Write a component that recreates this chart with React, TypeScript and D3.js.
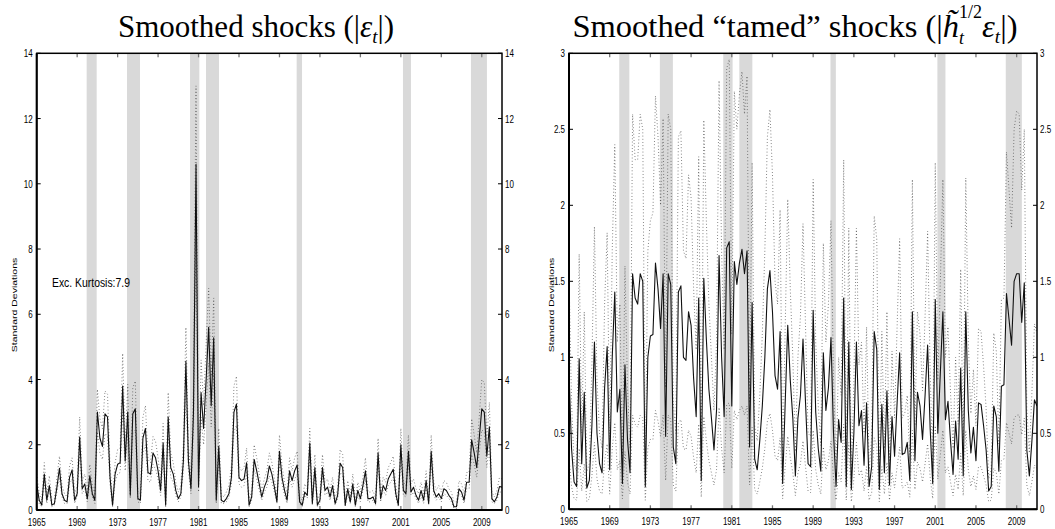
import React from 'react';
import * as d3 from 'd3';

// ---------- data ----------
const startYear = 1965;
const endYear = 2011;
const xTickYears = [1965, 1969, 1973, 1977, 1981, 1985, 1989, 1993, 1997, 2001, 2005, 2009];
const recessionStart = [1969.94, 1973.93, 1980.16, 1981.74, 1990.7, 2001.21, 2007.93];
const recessionEnd = [1970.93, 1975.21, 1981.08, 1983.02, 1991.23, 2002.0, 2009.51];

const leftTicks = [0, 2, 4, 6, 8, 10, 12, 14];
const rightTicks = [0, 0.5, 1, 1.5, 2, 2.5, 3];
const rightTickLabels = ['0', '0.5', '1', '1.5', '2', '2.5', '3'];

// quarterly, 1965Q1 ..
const leftMedian = [
  0.8, 0.3, 0.15, 1.1, 0.3, 0.75, 0.15, 0.2, 0.7, 1.28,
  0.5, 0.3, 0.25, 1.0, 1.23, 0.3, 0.5, 2.24, 0.65, 0.8,
  0.35, 1.05, 0.5, 0.3, 3.0, 2.2, 1.95, 2.95, 2.85, 1.0,
  0.15, 1.1, 1.4, 1.45, 3.8, 1.5, 3.0, 0.45, 2.95, 3.1,
  0.35, 0.3, 2.2, 2.5, 1.15, 1.1, 1.75, 1.6, 1.2, 0.6,
  2.05, 0.15, 2.85, 1.3, 1.1, 0.6, 0.35, 0.5, 1.5, 4.56,
  1.5, 0.65, 3.0, 10.6, 0.72, 3.6, 2.5, 4.0, 5.6, 3.2,
  5.28, 0.3, 1.95, 0.3, 0.25, 0.35, 0.5, 1.0, 3.0, 3.25,
  1.0, 0.9, 0.95, 1.45, 0.15, 0.4, 1.55, 1.2, 0.8, 0.4,
  0.7, 0.9, 1.35, 1.1, 0.7, 0.25, 1.8, 1.0, 0.6, 0.3,
  1.2, 0.9, 1.2, 1.38, 0.25, 0.15, 0.55, 0.45, 2.05, 0.2,
  1.3, 0.15, 0.3, 1.3, 0.6, 0.7, 0.4, 0.75, 0.2, 0.45,
  1.43, 1.3, 0.15, 0.65, 0.25, 0.8, 0.15, 0.6, 0.35, 0.75,
  1.2, 0.35, 0.35, 0.4, 0.2, 1.75, 0.35, 0.75, 0.6, 0.95,
  1.1, 1.25, 0.5, 0.15, 2.0, 0.6, 0.5, 1.8, 0.55, 0.7,
  0.45, 0.3, 0.6, 0.3, 0.9, 0.2, 1.8, 0.6, 0.4, 0.5,
  0.35, 0.65, 0.6, 0.45, 0.35, 0.1, 0.1, 0.65, 0.55, 0.3,
  0.85, 0.85, 2.15, 1.75, 1.3, 2.2, 3.1, 3.0, 1.65, 2.55,
  0.35, 0.25, 0.4, 0.72, 0.7,
];
const leftUpper = [
  1.1, 0.5, 0.3, 1.45, 0.5, 1.05, 0.3, 0.35, 1.0, 1.65,
  0.75, 0.5, 0.4, 1.35, 1.6, 0.5, 0.75, 2.85, 0.9, 1.1,
  0.55, 1.4, 0.75, 0.5, 3.7, 2.8, 2.5, 3.65, 3.55, 1.35,
  0.3, 1.45, 1.85, 1.9, 4.8, 1.95, 3.85, 0.65, 3.75, 3.95,
  0.55, 0.5, 2.85, 3.2, 1.55, 1.45, 2.25, 2.1, 1.6, 0.85,
  2.65, 0.3, 3.6, 1.75, 1.45, 0.85, 0.55, 0.75, 2.0, 5.6,
  2.0, 0.9, 3.8, 13.0, 1.0, 4.6, 3.2, 5.1, 6.8, 4.1,
  6.5, 0.5, 2.5, 0.5, 0.4, 0.55, 0.75, 1.35, 3.8, 4.1,
  1.35, 1.2, 1.3, 1.9, 0.3, 0.6, 2.0, 1.6, 1.1, 0.6,
  0.95, 1.2, 1.75, 1.45, 0.95, 0.4, 2.3, 1.35, 0.85, 0.5,
  1.6, 1.2, 1.6, 1.8, 0.4, 0.3, 0.8, 0.65, 2.5, 0.35,
  1.7, 0.3, 0.5, 1.7, 0.85, 0.95, 0.6, 1.0, 0.35, 0.65,
  1.85, 1.7, 0.3, 0.9, 0.4, 1.1, 0.3, 0.85, 0.55, 1.0,
  1.6, 0.55, 0.55, 0.6, 0.35, 2.2, 0.55, 1.0, 0.85, 1.3,
  1.45, 1.65, 0.75, 0.3, 2.5, 0.85, 0.75, 2.3, 0.8, 0.95,
  0.65, 0.5, 0.85, 0.5, 1.2, 0.35, 2.3, 0.85, 0.6, 0.75,
  0.55, 0.9, 0.85, 0.65, 0.55, 0.25, 0.25, 0.9, 0.8, 0.5,
  1.15, 1.15, 2.8, 2.3, 1.75, 2.85, 4.0, 3.9, 2.2, 3.3,
  0.55, 0.4, 0.6, 1.0, 0.95,
];
const leftLower = [
  0.6, 0.2, 0.1, 0.85, 0.2, 0.6, 0.1, 0.15, 0.55, 1.0,
  0.4, 0.2, 0.2, 0.8, 0.95, 0.2, 0.4, 1.75, 0.5, 0.65,
  0.25, 0.85, 0.4, 0.2, 2.4, 1.75, 1.55, 2.35, 2.25, 0.8,
  0.1, 0.85, 1.1, 1.15, 3.0, 1.2, 2.4, 0.35, 2.35, 2.45,
  0.25, 0.2, 1.75, 2.0, 0.9, 0.85, 1.4, 1.25, 0.95, 0.45,
  1.6, 0.1, 2.25, 1.0, 0.85, 0.45, 0.25, 0.4, 1.2, 3.6,
  1.2, 0.5, 2.4, 8.4, 0.55, 2.85, 2.0, 3.2, 4.5, 2.55,
  4.2, 0.2, 1.55, 0.2, 0.2, 0.25, 0.4, 0.8, 2.4, 2.6,
  0.8, 0.7, 0.75, 1.15, 0.1, 0.3, 1.25, 0.95, 0.6, 0.3,
  0.55, 0.7, 1.05, 0.85, 0.55, 0.2, 1.45, 0.8, 0.45, 0.2,
  0.95, 0.7, 0.95, 1.1, 0.2, 0.1, 0.45, 0.35, 1.6, 0.15,
  1.05, 0.1, 0.2, 1.05, 0.45, 0.55, 0.3, 0.6, 0.15, 0.35,
  1.15, 1.05, 0.1, 0.5, 0.2, 0.65, 0.1, 0.45, 0.25, 0.6,
  0.95, 0.25, 0.25, 0.3, 0.15, 1.4, 0.25, 0.6, 0.45, 0.75,
  0.85, 1.0, 0.4, 0.1, 1.6, 0.45, 0.4, 1.45, 0.45, 0.55,
  0.35, 0.2, 0.45, 0.2, 0.7, 0.15, 1.45, 0.45, 0.3, 0.4,
  0.25, 0.5, 0.45, 0.35, 0.25, 0.05, 0.05, 0.5, 0.45, 0.2,
  0.65, 0.65, 1.7, 1.4, 1.0, 1.75, 2.45, 2.4, 1.3, 2.0,
  0.25, 0.2, 0.3, 0.55, 0.55,
];

const rightMedian = [
  0.9, 0.4, 0.18, 0.15, 0.99, 0.3, 0.77, 0.14, 0.19, 0.55,
  1.1, 0.5, 0.3, 0.24, 0.8, 1.07, 0.26, 1.0, 1.43, 0.64,
  0.79, 0.17, 0.95, 0.46, 0.24, 1.55, 1.39, 1.35, 1.55, 1.5,
  0.15, 1.0, 1.14, 1.15, 1.62, 1.45, 1.19, 1.55, 0.48, 1.55,
  1.48, 0.41, 0.3, 1.43, 1.47, 1.0, 0.98, 1.3, 1.21, 0.86,
  0.61, 1.39, 0.19, 1.52, 1.12, 0.79, 0.6, 0.39, 0.65, 1.67,
  1.0, 0.61, 1.72, 1.76, 0.68, 1.63, 1.48, 1.62, 1.71, 1.55,
  1.7, 0.41, 1.36, 0.33, 0.26, 0.45, 0.68, 1.0, 1.45, 1.57,
  1.3, 0.88, 0.79, 1.17, 0.17, 0.7, 1.21, 0.85, 0.6, 0.22,
  0.6, 0.75, 1.12, 0.7, 0.3, 0.28, 1.31, 0.64, 0.4, 0.25,
  1.03, 0.65, 0.8, 1.13, 0.5, 0.15, 0.59, 0.44, 1.39, 0.15,
  1.1, 0.13, 0.5, 1.1, 0.55, 0.65, 0.29, 0.7, 0.15, 0.28,
  1.17, 1.05, 0.13, 0.69, 0.24, 0.78, 0.16, 0.61, 0.35, 0.7,
  1.03, 0.36, 0.37, 0.44, 0.19, 1.3, 0.32, 0.77, 0.68, 0.46,
  0.75, 1.08, 0.53, 0.17, 1.38, 0.5, 0.9, 1.3, 0.59, 0.71,
  0.45, 0.23, 0.58, 0.33, 0.93, 0.22, 1.3, 0.65, 0.37, 0.54,
  0.32, 0.7, 0.69, 0.55, 0.39, 0.12, 0.15, 0.68, 0.61, 0.25,
  0.81, 0.82, 1.42, 1.25, 1.08, 1.5, 1.55, 1.55, 1.23, 1.49,
  0.39, 0.22, 0.45, 0.72, 0.68,
];
const rightUpper = [
  1.55, 0.7, 0.3, 0.25, 1.68, 0.5, 1.3, 0.25, 0.3, 0.95,
  1.86, 0.85, 0.5, 0.4, 1.35, 1.82, 0.45, 1.7, 2.4, 1.1,
  1.35, 0.3, 1.6, 0.8, 0.4, 2.6, 2.3, 2.3, 2.6, 2.5,
  0.25, 1.7, 1.9, 1.95, 2.72, 2.45, 2.0, 2.57, 0.8, 2.6,
  2.5, 0.7, 0.5, 2.45, 2.49, 1.7, 1.65, 2.2, 2.05, 1.45,
  1.05, 2.32, 0.35, 2.56, 1.9, 1.35, 1.0, 0.65, 1.1, 2.82,
  1.7, 1.05, 2.9, 2.96, 1.15, 2.75, 2.5, 2.73, 2.88, 2.6,
  2.85, 0.7, 2.28, 0.55, 0.45, 0.75, 1.15, 1.7, 2.45, 2.63,
  2.2, 1.5, 1.35, 1.97, 0.3, 1.2, 2.04, 1.45, 1.0, 0.38,
  1.0, 1.27, 1.88, 1.2, 0.5, 0.48, 2.17, 1.1, 0.68, 0.42,
  1.75, 1.1, 1.35, 1.9, 0.85, 0.25, 1.0, 0.75, 2.3, 0.25,
  1.85, 0.22, 0.85, 1.85, 0.95, 1.1, 0.5, 1.2, 0.25, 0.48,
  1.93, 1.78, 0.22, 1.17, 0.4, 1.3, 0.27, 1.04, 0.6, 1.2,
  1.78, 0.6, 0.63, 0.75, 0.32, 2.17, 0.55, 1.3, 1.15, 0.78,
  1.27, 1.83, 0.9, 0.3, 2.28, 0.85, 1.5, 2.17, 1.0, 1.2,
  0.77, 0.4, 1.0, 0.56, 1.58, 0.37, 2.18, 1.1, 0.63, 0.92,
  0.55, 1.19, 1.17, 0.94, 0.66, 0.2, 0.26, 1.16, 1.04, 0.43,
  1.38, 1.39, 2.35, 2.1, 1.85, 2.5, 2.62, 2.6, 2.1, 2.5,
  0.66, 0.37, 0.77, 1.22, 1.16,
];
const rightLower = [
  0.35, 0.15, 0.07, 0.06, 0.4, 0.12, 0.3, 0.05, 0.07, 0.22,
  0.44, 0.2, 0.12, 0.1, 0.32, 0.43, 0.1, 0.4, 0.57, 0.26,
  0.32, 0.07, 0.38, 0.18, 0.1, 0.62, 0.56, 0.54, 0.62, 0.6,
  0.06, 0.4, 0.46, 0.46, 0.65, 0.58, 0.48, 0.62, 0.19, 0.62,
  0.59, 0.16, 0.12, 0.57, 0.59, 0.4, 0.39, 0.52, 0.48, 0.34,
  0.24, 0.56, 0.08, 0.61, 0.45, 0.32, 0.24, 0.16, 0.26, 0.67,
  0.4, 0.24, 0.69, 0.7, 0.27, 0.65, 0.59, 0.65, 0.68, 0.62,
  0.68, 0.16, 0.54, 0.13, 0.1, 0.18, 0.27, 0.4, 0.58, 0.63,
  0.52, 0.35, 0.32, 0.47, 0.07, 0.28, 0.48, 0.34, 0.24, 0.09,
  0.24, 0.3, 0.45, 0.28, 0.12, 0.11, 0.52, 0.26, 0.16, 0.1,
  0.41, 0.26, 0.32, 0.45, 0.2, 0.06, 0.24, 0.18, 0.56, 0.06,
  0.44, 0.05, 0.2, 0.44, 0.22, 0.26, 0.12, 0.28, 0.06, 0.11,
  0.47, 0.42, 0.05, 0.28, 0.1, 0.31, 0.06, 0.24, 0.14, 0.28,
  0.41, 0.14, 0.15, 0.18, 0.08, 0.52, 0.13, 0.31, 0.27, 0.18,
  0.3, 0.43, 0.21, 0.07, 0.55, 0.2, 0.36, 0.52, 0.24, 0.28,
  0.18, 0.09, 0.23, 0.13, 0.37, 0.09, 0.52, 0.26, 0.15, 0.22,
  0.13, 0.28, 0.28, 0.22, 0.16, 0.05, 0.06, 0.27, 0.24, 0.1,
  0.32, 0.33, 0.57, 0.5, 0.43, 0.6, 0.62, 0.62, 0.49, 0.6,
  0.16, 0.09, 0.18, 0.29, 0.27,
];

// ---------- helpers ----------
const SANS = "'Liberation Sans', Arial, Helvetica, sans-serif";
const SERIF = "'Liberation Serif', 'Times New Roman', serif";
const SY = 1.4;

function SText({ x, y, children, anchor = 'middle', size = 8, sy = SY, rotate = 0 }: any) {
  return (
    <text
      transform={`translate(${x},${y}) scale(1,${sy})${rotate ? ` rotate(${rotate})` : ''}`}
      textAnchor={anchor}
      fontSize={size}
      fontFamily={SANS}
      fill="#000"
    >
      {children}
    </text>
  );
}

function Panel({ x0, x1, y0, y1, yMax, ticks, tickLabels, median, upper, lower, id, labelX }: any) {
  const xs = d3.scaleLinear().domain([startYear, endYear]).range([x0, x1]);
  const ys = d3.scaleLinear().domain([0, yMax]).range([y1, y0]);
  const t = (i: number) => startYear + i / 4;
  const line = d3
    .line<number>()
    .x((_, i) => xs(t(i)))
    .y((d) => ys(d));
  const tl = 4;
  return (
    <g>
      <defs>
        <clipPath id={id}>
          <rect x={x0} y={y0} width={x1 - x0} height={y1 - y0} />
        </clipPath>
      </defs>
      {recessionStart.map((s, k) => (
        <rect
          key={k}
          x={xs(s)}
          y={y0}
          width={xs(recessionEnd[k]) - xs(s)}
          height={y1 - y0}
          fill="#d9d9d9"
        />
      ))}
      <g clipPath={`url(#${id})`}>
        <path d={line(upper) || ''} fill="none" stroke="#444" strokeWidth={0.8} strokeDasharray="0.8 2.4" />
        <path d={line(lower) || ''} fill="none" stroke="#444" strokeWidth={0.8} strokeDasharray="0.8 2.4" />
        <path d={line(median) || ''} fill="none" stroke="#111" strokeWidth={1.1} strokeLinejoin="round" />
      </g>
      {/* x ticks */}
      {xTickYears.map((yr) => (
        <g key={yr}>
          <line x1={xs(yr)} x2={xs(yr)} y1={y1} y2={y1 - tl} stroke="#777" strokeWidth={1.3} />
          <line x1={xs(yr)} x2={xs(yr)} y1={y0} y2={y0 + tl} stroke="#777" strokeWidth={1.3} />
          <SText x={xs(yr)} y={y1 + 16}>{String(yr)}</SText>
        </g>
      ))}
      {/* y ticks */}
      {ticks.map((v: number, k: number) => (
        <g key={v}>
          <line x1={x0} x2={x0 + tl} y1={ys(v)} y2={ys(v)} stroke="#000" strokeWidth={1} />
          <line x1={x1} x2={x1 - tl} y1={ys(v)} y2={ys(v)} stroke="#000" strokeWidth={1} />
          <SText x={x0 - 4} y={ys(v) + 4} anchor="end">{tickLabels[k]}</SText>
          <SText x={x1 + 3} y={ys(v) + 4} anchor="start">{tickLabels[k]}</SText>
        </g>
      ))}
      <rect x={x0} y={y0} width={x1 - x0} height={y1 - y0} fill="none" stroke="#000" strokeWidth={1.5} />
      <line x1={x0} x2={x0} y1={y0} y2={y1} stroke="#000" strokeWidth={2} />
      <line x1={x0} x2={x1} y1={y1} y2={y1} stroke="#000" strokeWidth={2} />
      <SText x={labelX} y={305} size={7.5} rotate={-90}>Standard Deviations</SText>
    </g>
  );
}

export default function App() {
  return (
    <svg
      width={1055}
      height={529}
      style={{ position: 'absolute', left: 0, top: 0, background: '#fff' }}
    >
      <rect x={0} y={0} width={1055} height={529} fill="#fff" />
      <Panel
        id="clipL"
        x0={36.7}
        x1={502}
        y0={53.3}
        y1={510}
        yMax={14}
        ticks={leftTicks}
        tickLabels={leftTicks.map(String)}
        median={leftMedian}
        upper={leftUpper}
        lower={leftLower}
        labelX={17}
      />
      <Panel
        id="clipR"
        x0={569}
        x1={1037}
        y0={53.3}
        y1={509.3}
        yMax={3}
        ticks={rightTicks}
        tickLabels={rightTickLabels}
        median={rightMedian}
        upper={rightUpper}
        lower={rightLower}
        labelX={554}
      />
      <SText x={52} y={287} size={10.4} sy={1.3} anchor="start">Exc. Kurtosis:7.9</SText>
      <text x={256} y={37} textAnchor="middle" fontFamily={SERIF} fontSize={31}>
        Smoothed shocks (|<tspan fontStyle="italic">ε</tspan>
        <tspan fontSize={19} fontStyle="italic" dy={6}>t</tspan>
        <tspan dy={-6}>|)</tspan>
      </text>
      <text x={795} y={37} textAnchor="middle" fontFamily={SERIF} fontSize={32.5}>
        Smoothed “tamed” shocks (|<tspan fontStyle="italic">h̃</tspan>
        <tspan fontSize={18} dy={-19}>1/2</tspan>
        <tspan fontSize={18} fontStyle="italic" dx={-23} dy={26}>t</tspan>
        <tspan fontStyle="italic" dx={18} dy={-7}>ε</tspan>
        <tspan fontSize={19} fontStyle="italic" dy={6}>t</tspan>
        <tspan dy={-6}>|)</tspan>
      </text>
    </svg>
  );
}
